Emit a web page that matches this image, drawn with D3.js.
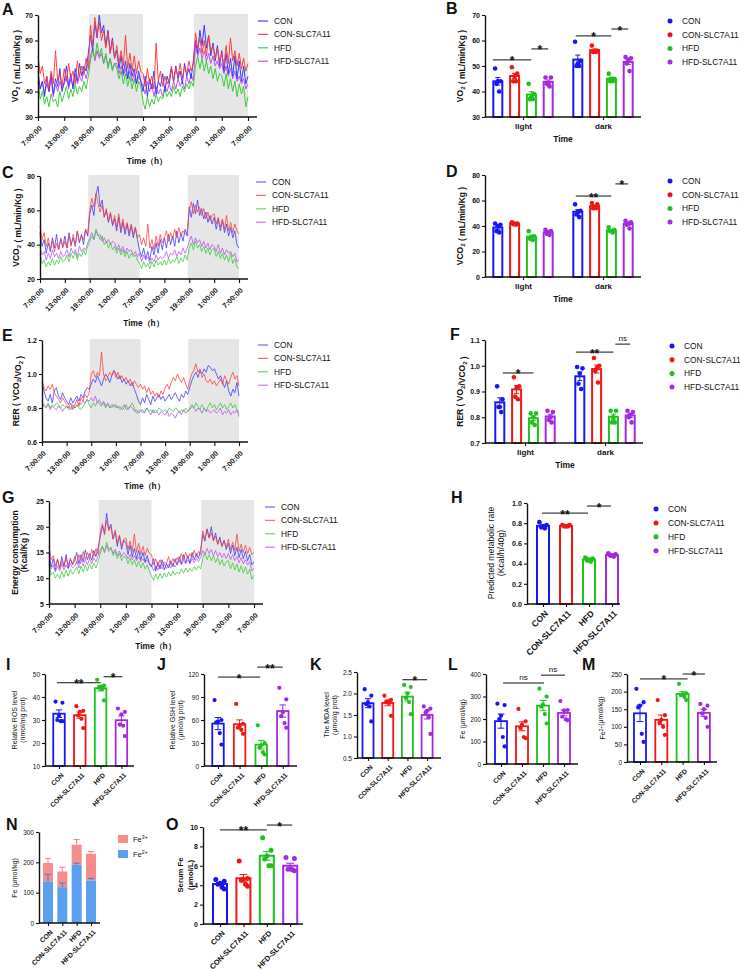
<!DOCTYPE html>
<html><head><meta charset="utf-8">
<script src="https://cdn.jsdelivr.net/npm/d3@7"></script>
<style>body{margin:0;background:#fff}svg{display:block}</style>
</head><body>
<svg id="c" width="740" height="971"></svg>
<script>
// ---------------- DATA ----------------
const groups = ["CON","CON-SLC7A11","HFD","HFD-SLC7A11"];
const periods = ["light","dark"];
const timeTickHours = [0,6,12,18,24,30,36,42,48];
const timeTickLabels = ["7:00:00","13:00:00","19:00:00","1:00:00","7:00:00","13:00:00","19:00:00","1:00:00","7:00:00"];
const darkPeriods = [[12,24],[36,48]];
const hours = d3.range(97).map(i => i * 0.5);

// A: VO2 time series
const vo2Con = [48,41,44,38,46,40,47,39,45,42,49,40, 44,50,42,47,41,49,44,51,46,50,48,55, 62,56,67,61,70,63,66,58,64,55,61,53, 56,49,54,47,52,45,51,46,49,43,48,44, 40,46,38,45,41,48,39,44,42,47,40,46, 43,49,44,50,45,48,43,51,46,49,45,52, 60,55,64,58,66,57,62,54,59,52,58,50, 56,48,55,47,53,46,54,45,52,44,50,43,46];
const vo2ConS = [54,47,50,43,46,41,48,43,56,44,47,42, 49,44,51,45,48,43,52,46,50,47,53,49, 66,58,69,62,67,60,64,57,63,55,60,53, 58,51,56,50,62,49,55,48,54,47,52,48, 47,42,49,43,46,41,59,44,48,42,46,43, 45,50,44,49,46,51,45,50,47,52,48,51, 63,57,61,55,60,54,62,56,58,53,57,52, 55,50,58,51,61,52,56,50,55,49,53,48,51];
const vo2Hfd = [44,37,40,35,38,34,39,36,37,34,40,36, 39,42,37,41,38,43,39,42,40,44,41,46, 52,56,53,59,54,57,51,55,49,53,48,51, 49,45,48,43,47,42,46,41,45,40,44,42, 36,33,38,34,37,35,39,36,38,37,41,38, 40,38,42,39,41,38,42,40,43,41,44,42, 50,54,49,53,48,52,47,50,45,49,44,47, 46,42,47,41,45,40,44,38,43,39,42,34,38];
const vo2HfdS = [46,41,44,39,43,40,45,38,43,40,44,41, 43,46,41,45,42,47,43,46,44,48,45,49, 54,57,52,56,53,55,51,54,50,53,49,51, 51,47,50,46,49,45,48,44,47,43,46,44, 42,39,44,40,43,38,42,39,41,38,42,40, 43,40,44,41,45,42,44,41,46,43,47,44, 58,54,57,53,56,52,55,51,54,50,52,49, 51,47,50,46,49,45,48,44,46,43,45,41,43];

// C: VCO2 time series
const vco2Con = [47,39,43,35,41,36,44,38,46,37,43,39, 45,38,47,40,44,39,48,41,46,40,49,45, 58,63,57,69,74,62,66,56,60,53,58,51, 55,48,56,47,53,46,52,45,51,44,50,43, 37,33,38,32,36,31,39,34,41,35,43,37, 44,38,46,40,45,39,48,41,47,42,49,45, 62,56,64,58,66,57,61,55,59,53,57,52, 56,49,55,48,54,47,52,45,50,44,48,40,38];
const vco2ConS = [51,43,47,39,44,37,42,36,41,37,44,38, 42,38,45,39,46,40,48,42,45,43,49,46, 60,67,62,70,64,59,63,56,61,54,59,52, 57,50,58,49,55,48,53,47,52,46,50,44, 46,40,44,39,52,38,43,37,45,39,46,41, 44,48,42,47,43,49,44,50,45,48,46,47, 60,65,58,63,59,62,57,61,55,59,54,57, 58,52,56,50,55,49,57,48,53,47,52,48,46];
const vco2Hfd = [35,29,31,27,30,28,32,28,31,29,33,30, 31,34,30,35,32,36,31,35,33,37,34,39, 42,45,43,49,46,43,45,40,42,38,41,37, 39,35,38,34,37,33,36,32,35,33,34,31, 29,26,30,27,29,26,30,27,31,28,30,28, 31,28,32,29,31,30,33,29,32,30,34,31, 38,41,37,42,38,40,36,39,35,38,34,37, 38,33,36,32,35,31,34,30,35,29,32,27,26];
const vco2HfdS = [39,34,36,31,35,32,37,33,35,32,36,33, 34,37,33,38,35,37,33,39,36,38,37,41, 44,47,43,48,45,46,42,44,41,43,40,42, 41,37,40,36,39,35,38,36,37,34,36,33, 35,30,34,31,33,29,32,30,34,31,33,32, 33,36,32,35,34,37,33,36,34,38,35,38, 42,45,40,44,41,43,39,42,38,41,37,40, 39,36,40,35,38,34,37,35,36,33,35,30,31];

// E: RER time series
const rerCon = [0.95,0.90,0.86,0.84,0.88,0.83,0.90,0.92,0.87,0.85,0.89,0.86, 0.84,0.82,0.86,0.83,0.85,0.87,0.84,0.88,0.86,0.90,0.92,0.91, 0.94,0.97,0.95,0.99,0.96,0.93,0.97,1.00,0.98,0.95,0.99,1.02, 1.00,0.97,0.99,0.95,0.97,0.94,0.96,0.93,0.95,0.91,0.88,0.84, 0.82,0.86,0.83,0.88,0.85,0.82,0.87,0.84,0.86,0.88,0.85,0.87, 0.84,0.86,0.88,0.85,0.87,0.89,0.86,0.84,0.88,0.86,0.90,0.88, 0.92,0.96,0.99,1.01,0.98,1.02,1.00,1.03,1.01,1.05,1.04,1.02, 1.03,1.00,0.97,0.99,0.95,0.92,0.96,0.90,0.87,0.91,0.89,0.95,0.87];
const rerConS = [0.96,0.92,0.90,0.93,0.91,0.94,0.89,0.87,0.85,0.83,0.86,0.84, 0.82,0.80,0.83,0.79,0.82,0.85,0.81,0.86,0.84,0.88,0.86,0.89, 1.00,1.02,0.98,1.01,0.99,1.13,1.00,0.96,0.98,1.01,0.99,1.02, 0.98,1.01,0.97,0.99,0.96,0.98,0.95,0.97,0.93,0.96,0.94,0.92, 0.94,0.91,0.93,0.89,0.92,0.88,0.90,0.87,0.89,0.86,0.90,0.88, 0.92,0.94,0.91,0.95,0.98,0.96,1.00,0.97,0.95,0.98,0.94,0.91, 0.96,1.00,1.02,1.06,1.01,1.03,0.98,1.00,0.96,0.95,0.97,0.94, 0.96,0.93,0.95,0.97,0.94,0.99,0.96,0.94,0.98,1.01,0.97,0.99,0.93];
const rerHfd = [0.83,0.82,0.81,0.83,0.80,0.82,0.81,0.83,0.82,0.80,0.82,0.81, 0.80,0.81,0.79,0.81,0.80,0.82,0.80,0.79,0.81,0.83,0.85,0.82, 0.80,0.83,0.81,0.84,0.82,0.81,0.83,0.80,0.82,0.81,0.80,0.82, 0.80,0.81,0.79,0.80,0.82,0.79,0.80,0.81,0.83,0.80,0.77,0.78, 0.79,0.77,0.78,0.80,0.78,0.79,0.77,0.79,0.78,0.80,0.79,0.78, 0.79,0.78,0.80,0.79,0.78,0.80,0.79,0.77,0.79,0.78,0.80,0.78, 0.80,0.82,0.80,0.83,0.81,0.79,0.82,0.80,0.78,0.81,0.83,0.80, 0.82,0.79,0.81,0.83,0.80,0.82,0.79,0.81,0.83,0.80,0.82,0.79,0.77];
const rerHfdS = [0.84,0.81,0.80,0.82,0.79,0.81,0.80,0.79,0.81,0.80,0.78,0.80, 0.81,0.79,0.80,0.82,0.80,0.81,0.83,0.82,0.84,0.83,0.85,0.84, 0.86,0.84,0.87,0.83,0.85,0.82,0.84,0.81,0.83,0.80,0.82,0.81, 0.82,0.80,0.81,0.79,0.80,0.82,0.79,0.81,0.80,0.78,0.79,0.77, 0.78,0.79,0.77,0.80,0.78,0.76,0.79,0.77,0.78,0.76,0.78,0.77, 0.76,0.78,0.75,0.77,0.76,0.74,0.77,0.78,0.76,0.79,0.77,0.78, 0.79,0.81,0.80,0.78,0.80,0.79,0.77,0.80,0.78,0.79,0.77,0.78, 0.79,0.77,0.78,0.80,0.76,0.78,0.77,0.79,0.76,0.78,0.77,0.79,0.75];

// G: energy consumption time series
const enCon = [15.0,12.2,13.8,11.6,13.6,11.9,14.2,12.3,14.6,12.0,13.9,12.6, 13.4,15.0,12.8,14.6,13.2,15.5,13.6,14.8,13.5,15.4,14.2,16.0, 18.0,20.2,18.8,22.6,19.5,20.5,17.6,19.0,16.2,18.2,15.6,17.4, 16.8,14.6,16.4,14.2,15.8,13.8,15.4,13.6,15.0,13.2,14.4,12.8, 12.2,13.8,11.4,13.2,11.8,13.6,11.6,12.9,12.0,13.4,12.2,13.8, 12.6,14.2,12.8,14.6,13.0,14.4,12.9,15.0,13.6,14.8,13.8,15.6, 18.5,17.2,19.6,17.8,20.0,17.4,18.8,16.6,18.0,16.2,17.4,15.6, 16.8,14.8,16.4,14.4,16.0,14.0,15.6,13.8,15.2,13.4,14.6,12.6,13.2];
const enConS = [16.2,13.6,14.4,12.4,13.8,12.0,13.4,12.2,14.0,12.6,13.6,12.8, 14.2,12.9,14.6,13.4,15.2,13.6,15.0,13.8,15.6,14.2,15.8,14.6, 19.0,20.6,18.4,21.2,19.2,20.0,17.6,19.4,16.8,18.4,16.2,17.6, 17.8,15.6,17.2,15.2,18.6,15.0,16.8,14.6,16.2,14.4,15.8,14.8, 14.6,12.6,13.8,12.2,13.6,12.4,13.2,12.8,14.2,12.6,13.8,13.0, 14.0,13.2,14.8,13.6,15.0,13.8,14.8,14.0,15.4,14.2,15.2,14.6, 19.2,17.6,19.4,17.8,18.8,17.2,18.2,16.6,17.6,16.2,17.2,16.0, 17.6,15.6,17.0,15.4,18.6,15.2,16.6,15.0,16.4,14.8,16.0,14.6,15.0];
const enHfd = [12.8,10.6,11.2,10.0,10.8,9.9,11.4,10.2,11.6,10.4,11.8,10.8, 11.4,12.2,10.9,12.4,11.2,12.6,11.4,12.8,11.8,12.9,12.0,13.2, 14.8,16.2,15.0,17.0,15.6,16.0,14.4,15.2,13.8,14.8,13.4,14.2, 14.2,12.8,13.9,12.6,13.6,12.2,13.3,12.0,13.0,11.8,12.6,11.4, 10.4,9.6,10.8,9.8,10.9,10.0,11.0,10.2,11.2,10.4,11.4,10.6, 11.2,10.8,11.8,11.0,12.0,11.2,11.9,11.4,12.2,11.6,12.4,11.8, 13.8,15.0,13.6,14.6,13.4,14.4,13.0,14.0,12.6,13.6,12.4,13.2, 13.4,11.8,13.0,11.6,12.8,11.2,12.4,11.0,12.2,10.8,11.8,9.8,10.6];
const enHfdS = [13.4,11.8,12.6,11.2,12.4,11.4,12.8,11.6,12.6,11.8,12.9,12.0, 12.4,13.2,12.0,13.4,12.4,13.6,12.6,13.8,12.8,14.0,13.2,14.4, 15.4,16.2,15.0,16.4,15.2,15.9,14.8,15.6,14.4,15.3,14.2,15.0, 14.6,13.8,14.6,13.6,14.4,13.4,14.2,13.2,13.8,13.0,13.6,12.8, 12.6,11.4,12.4,11.6,12.6,11.8,12.8,11.9,12.7,12.0,12.9,12.2, 12.8,13.4,12.6,13.5,12.8,13.6,12.9,13.8,13.0,13.9,13.2,14.0, 15.4,14.6,15.8,14.8,15.6,14.4,15.4,14.2,15.0,14.0,14.8,13.8, 14.8,13.6,14.6,13.4,14.2,13.0,14.0,12.8,13.6,12.6,13.2,11.4,12.0];

// B, D, F: per-animal light / dark values (order = groups)
const vo2Light = [[49,44,43,40,44],[49.5,47,46,44,44],[43,39,38,37,37],[45.5,45.5,43,43,42]];
const vo2Dark  = [[59.5,52,51,50,50],[58,56,56,55.5,55.5],[47,45,45,44,44],[53.5,53,52.5,51,48]];
const vco2Light = [[42,41,40,36,35],[43,42,42,41.5,41],[36,32,31,30,29],[37,36,35,34,33]];
const vco2Dark  = [[57,52,51,49,47],[58,57,55,54,54],[39,37,36,36,35],[44,43,42,41,38]];
const rerLight = [[0.92,0.87,0.84,0.84,0.82],[0.955,0.92,0.915,0.88,0.87],[0.815,0.815,0.80,0.78,0.77],[0.825,0.82,0.80,0.79,0.78]];
const rerDark  = [[0.995,0.99,0.97,0.93,0.91],[1.03,1.00,0.99,0.98,0.935],[0.825,0.825,0.80,0.78,0.78],[0.825,0.82,0.81,0.80,0.78]];
// H
const pmr = [[0.81,0.78,0.77,0.76,0.75],[0.78,0.78,0.77,0.77,0.77],[0.46,0.45,0.44,0.43,0.42],[0.50,0.49,0.48,0.48,0.47]];
// I - M, O
const ros = [[38,37.5,32,30,29.5,29.5],[36,34,33.5,32,30.5,26.5],[47.5,45,44.5,44,43.5,38.5],[35,33.5,32.5,28,27.5,23]];
const gsh = [[86,60,58,57,43,28],[81,55,52,50,47,42],[53,30,27,24,18,15],[102,87,70,65,56,50]];
const mda = [[2.1,1.95,1.8,1.75,1.7,1.35],[1.95,1.85,1.82,1.8,1.78,1.48],[2.2,2.15,2.0,1.9,1.8,1.52],[1.7,1.65,1.6,1.55,1.45,1.06]];
const feTot = [[268,262,215,200,120,78],[245,190,175,160,120,115],[335,300,265,255,222,180],[280,240,238,210,198,195]];
const fe2 = [[208,170,160,155,80,57],[176,133,120,112,100,77],[222,195,192,190,185,176],[165,160,150,138,125,100]];
const serumFe = [[4.6,4.4,4.2,4.1,3.8,3.6],[6.5,4.7,4.6,4.5,4.1,3.9],[8.9,7.6,7.0,6.7,6.0,6.0],[6.85,6.75,5.7,5.65,5.6,5.5]];
// N: stacked Fe2+/Fe3+
const nFe2 = [137,118,192,140];
const nFe3 = [61,52,66,88];
const nFe2Err = [23,14,5,7];
const nTotErr = [15,14,17,8];
const nSeries = ["Fe3+","Fe2+"];

// ---------------- STYLE ----------------
const FONT = '"Liberation Sans", Arial, Helvetica, sans-serif';
const colors = ["#1717f5","#f01616","#1fc11f","#a22ae0"];
const lineColors = ["#3434ff","#ff3a3a","#35cb35","#bb4cf0"];
const nColors = ["#f58d8d","#5a9ff0"];
const svg = d3.select("#c").attr("font-family", FONT);

function styleAxis(a, fs, bold){
  a.attr("font-family", FONT);
  a.select(".domain").attr("stroke","#111").attr("stroke-width",1.4);
  a.selectAll(".tick line").attr("stroke","#111").attr("stroke-width",1.1);
  a.selectAll(".tick text").attr("font-size",fs).attr("font-weight",bold?"bold":"normal").attr("fill","#111");
}
function rotateTicks(a, dx, dy){
  a.selectAll(".tick text").attr("x",0).attr("y",0).attr("dy","0.35em")
    .attr("text-anchor","end").attr("transform",`translate(${dx},${dy}) rotate(-45)`);
}
function panelLabel(t,x,y){
  svg.append("text").attr("x",x).attr("y",y).attr("font-size",16).attr("font-weight","bold").attr("fill","#111").text(t);
}
function rich(sel, parts, fs){
  parts.forEach(([t,k])=>{
    const sp = sel.append("tspan").text(t);
    if(k==="sub"){ sp.attr("font-size",fs*0.7).attr("dy",fs*0.25); sel.append("tspan").attr("dy",-fs*0.25).text(""); }
    if(k==="sup"){ sp.attr("font-size",fs*0.7).attr("dy",-fs*0.35); sel.append("tspan").attr("dy",fs*0.35).text(""); }
  });
}
function yTitle(x,y,parts,fs,bold){
  const t = svg.append("text").attr("transform",`translate(${x},${y}) rotate(-90)`).attr("text-anchor","middle")
    .attr("dy","0.35em").attr("font-size",fs).attr("font-weight",bold?"bold":"normal").attr("fill","#111");
  rich(t, parts, fs);
}
function hText(x,y,str,fs,bold,anchor){
  svg.append("text").attr("x",x).attr("y",y).attr("text-anchor",anchor||"middle").attr("font-size",fs)
    .attr("font-weight",bold?"bold":"normal").attr("fill","#111").text(str);
}
function sig(x1,x2,yp,label){
  svg.append("line").attr("x1",x1).attr("x2",x2).attr("y1",yp).attr("y2",yp).attr("stroke","#111").attr("stroke-width",1);
  if(label==="ns") hText((x1+x2)/2, yp-3.5, label, 8, false);
  else hText((x1+x2)/2, yp+5.5, label, 12, true);
}

// ---------------- LINE CHARTS ----------------
function lineChart(o){
  const g = svg.append("g");
  const x = d3.scaleLinear().domain([0,48]).range([o.x0,o.x1]);
  const y = d3.scaleLinear().domain(o.yDomain).range([o.yBot,o.yTop]);
  g.selectAll("rect").data(darkPeriods).join("rect")
    .attr("x",d=>x(d[0])-1.5).attr("width",d=>x(d[1])-x(d[0])+1.5)
    .attr("y",o.yTop-1).attr("height",o.yBot-o.yTop+1).attr("fill","#e6e6e6");
  const line = d3.line().x((d,i)=>x(hours[i])).y(d=>y(d));
  [3,2,0,1].forEach(k=>{
    g.append("path").attr("d",line(o.series[k])).attr("fill","none")
      .attr("stroke",lineColors[k]).attr("stroke-width",1).attr("stroke-opacity",o.op).attr("stroke-linejoin","round");
  });
  const ya = g.append("g").attr("transform",`translate(${o.x0},0)`)
    .call(d3.axisLeft(y).tickValues(o.yTicks).tickFormat(o.yFmt).tickSize(3).tickSizeOuter(0).tickPadding(2));
  styleAxis(ya, 7, true);
  const xa = g.append("g").attr("transform",`translate(0,${o.yBot})`)
    .call(d3.axisBottom(x).tickValues(timeTickHours).tickFormat((d,i)=>timeTickLabels[i]).tickSize(4).tickSizeOuter(0));
  styleAxis(xa, 7.4, true);
  xa.select(".domain").attr("d",`M${o.x0},0H${o.x1+9}`);
  rotateTicks(xa, 2, 10);
  groups.forEach((gn,i)=>{
    const ly = o.legY + i*13.4;
    svg.append("line").attr("x1",o.legX).attr("x2",o.legX+10).attr("y1",ly).attr("y2",ly)
      .attr("stroke",lineColors[i]).attr("stroke-width",1.2).attr("stroke-opacity",o.op);
    hText(o.legX+16, ly+3, gn, 8.4, false, "start");
  });
  yTitle(o.ytX, (o.yTop+o.yBot)/2, o.yTitle, 8.5, true);
  if(o.yTitle2) yTitle(o.ytX+9, (o.yTop+o.yBot)/2, o.yTitle2, 8.5, true);
  hText((o.x0+o.x1)/2+4, o.xtY, "Time（h）", 8.3, true);
}

lineChart({x0:38,x1:248,yTop:15,yBot:117,yDomain:[30,70],yTicks:[30,40,50,60,70],yFmt:d3.format("d"),
  series:[vo2Con,vo2ConS,vo2Hfd,vo2HfdS],op:0.95,legX:258,legY:21,ytX:15,xtY:164,
  yTitle:[["VO",null],["2","sub"],[" ( mL/min/Kg )",null]]});
lineChart({x0:40,x1:239,yTop:176,yBot:279,yDomain:[20,80],yTicks:[20,40,60,80],yFmt:d3.format("d"),
  series:[vco2Con,vco2ConS,vco2Hfd,vco2HfdS],op:0.75,legX:256,legY:182,ytX:16,xtY:326,
  yTitle:[["VCO",null],["2","sub"],[" ( mL/min/Kg )",null]]});
lineChart({x0:42,x1:239,yTop:340,yBot:442,yDomain:[0.6,1.2],yTicks:[0.6,0.8,1.0,1.2],yFmt:d3.format(".1f"),
  series:[rerCon,rerConS,rerHfd,rerHfdS],op:0.75,legX:258,legY:345,ytX:16,xtY:489,
  yTitle:[["RER ( VCO",null],["2","sub"],["/VO",null],["2","sub"],[" )",null]]});
lineChart({x0:49,x1:254,yTop:501,yBot:604,yDomain:[5,25],yTicks:[5,10,15,20,25],yFmt:d3.format("d"),
  series:[enCon,enConS,enHfd,enHfdS],op:0.75,legX:265,legY:507,ytX:15,xtY:649,
  yTitle:[["Energy consumption",null]],yTitle2:[["(Kcal/Kg )",null]]});

panelLabel("A",2,15); panelLabel("C",2,178); panelLabel("E",2,341); panelLabel("G",2,503);

// ---------------- BAR HELPERS ----------------
const jit = [-0.3,0.3,0,-0.15,0.15,0.3,-0.3];
function drawBar(g, cx, vals, y, base, w, col, r, sw){
  const m = d3.mean(vals), sem = d3.deviation(vals)/Math.sqrt(vals.length);
  g.append("rect").attr("x",cx-w/2).attr("y",y(m)).attr("width",w).attr("height",y(base)-y(m))
    .attr("fill","#fff").attr("stroke",col).attr("stroke-width",sw);
  const cw = Math.max(2.5, w*0.28);
  g.append("path").attr("d",`M${cx},${y(m-sem)}V${y(m+sem)}M${cx-cw},${y(m+sem)}H${cx+cw}M${cx-cw},${y(m-sem)}H${cx+cw}`)
    .attr("stroke",col).attr("stroke-width",1).attr("fill","none");
  const order = d3.range(vals.length).sort((a,b)=>d3.descending(vals[a],vals[b]));
  order.forEach((idx,j)=> g.append("circle").attr("cx",cx+jit[j%7]*w).attr("cy",y(vals[idx])).attr("r",r).attr("fill",col));
}
function dotLegend(x,y0,step){
  groups.forEach((gn,i)=>{
    svg.append("circle").attr("cx",x).attr("cy",y0+i*step).attr("r",2.5).attr("fill",colors[i]);
    hText(x+12, y0+i*step+3, gn, 8.4, false, "start");
  });
}

function groupBars(o){
  const g = svg.append("g");
  const y = d3.scaleLinear().domain(o.yDomain).range([o.yBot,o.yTop]);
  const xp = d3.scalePoint().domain(periods).range(o.centers);
  const xi = d3.scalePoint().domain(groups).range([-25.2,25.2]);
  periods.forEach((p,pi)=> groups.forEach((gn,gi)=>{
    drawBar(g, xp(p)+xi(gn), o.data[pi][gi], y, o.yDomain[0], 9, colors[gi], 2.3, 2);
  }));
  const ya = g.append("g").attr("transform",`translate(${o.ax},0)`)
    .call(d3.axisLeft(y).tickValues(o.yTicks).tickFormat(o.yFmt).tickSize(3).tickSizeOuter(0).tickPadding(2));
  styleAxis(ya, 7, true);
  const xa = g.append("g").attr("transform",`translate(0,${o.yBot})`)
    .call(d3.axisBottom(xp).tickSize(3).tickSizeOuter(0).tickPadding(3));
  styleAxis(xa, 8, true);
  xa.select(".domain").attr("d",`M${o.ax},0H${o.axEnd}`);
  yTitle(460, (o.yTop+o.yBot)/2, o.yTitle, 8.5, true);
  hText((o.centers[0]+o.centers[1])/2, o.yBot+25, "Time", 8.5, true);
  dotLegend(o.legX, o.legY, 13.7);
  o.sigs.forEach(s=> sig(xp(s[0])+xi(groups[s[1]])+s[4], xp(s[0])+xi(groups[s[2]]), y(s[3]), s[5]));
}
groupBars({ax:485,axEnd:641,yTop:15,yBot:117,yDomain:[30,70],yTicks:[30,40,50,60,70],yFmt:d3.format("d"),
  centers:[523,603],data:[vo2Light,vo2Dark],legX:670,legY:21,
  yTitle:[["VO",null],["2","sub"],[" ( mL/min/Kg )",null]],
  sigs:[["light",0,2,52.4,-5,"*"],["light",2,3,56.7,0,"*"],["dark",0,2,61.8,-2,"*"],["dark",2,3,64.5,0,"*"]]});
groupBars({ax:485,axEnd:641,yTop:175,yBot:277,yDomain:[0,80],yTicks:[0,20,40,60,80],yFmt:d3.format("d"),
  centers:[523,603],data:[vco2Light,vco2Dark],legX:670,legY:181,
  yTitle:[["VCO",null],["2","sub"],[" ( mL/min/Kg )",null]],
  sigs:[["dark",0,2,63.5,-2,"**"],["dark",2,3,73,4,"*"]]});
groupBars({ax:485,axEnd:643,yTop:340,yBot:443,yDomain:[0.7,1.1],yTicks:[0.7,0.8,0.9,1.0,1.1],yFmt:d3.format(".1f"),
  centers:[525,605],data:[rerLight,rerDark],legX:672,legY:346,
  yTitle:[["RER ( VO",null],["2","sub"],["/VCO",null],["2","sub"],[" )",null]],
  sigs:[["light",0,2,0.972,3,"*"],["dark",0,2,1.053,-4,"**"],["dark",2,3,1.084,2,"ns"]]});
panelLabel("B",446,14); panelLabel("D",446,177); panelLabel("F",450,340); panelLabel("H",451,503);

function singleBars(o){
  const g = svg.append("g");
  const y = d3.scaleLinear().domain(o.yDomain).range([o.yBot,o.yTop]);
  const x = d3.scalePoint().domain(groups).range([o.c0, o.c0+3*o.step]);
  groups.forEach((gn,gi)=> drawBar(g, x(gn), o.data[gi], y, o.yDomain[0], o.w, colors[gi], o.r, o.sw));
  const ya = g.append("g").attr("transform",`translate(${o.ax},0)`)
    .call(d3.axisLeft(y).tickValues(o.yTicks).tickFormat(o.yFmt).tickSize(3).tickSizeOuter(0).tickPadding(2));
  styleAxis(ya, o.tfs, o.tb);
  const xa = g.append("g").attr("transform",`translate(0,${o.yBot})`)
    .call(d3.axisBottom(x).tickSize(3).tickSizeOuter(0));
  styleAxis(xa, o.xfs, true);
  xa.select(".domain").attr("d",`M${o.ax},0H${o.axEnd}`);
  rotateTicks(xa, 3, 8);
  o.sigs.forEach(s=> sig(x(groups[s[0]])+s[3], x(groups[s[1]])+s[4], y(s[2]), s[5]));
}

singleBars({ax:527,axEnd:620,yTop:503,yBot:604,yDomain:[0,1],yTicks:[0,0.2,0.4,0.6,0.8,1.0],yFmt:d3.format(".1f"),
  c0:543,step:23,w:12,r:2.4,sw:2,tfs:7.2,tb:true,xfs:8.6,data:pmr,
  sigs:[[0,2,0.90,-1,-1,"**"],[2,3,0.97,-2,-1,"*"]]});
yTitle(491,553,[["Predicted metabolic rate",null]],8.6,false);
yTitle(501,553,[["(Kcal/h/40g)",null]],8.6,false);
dotLegend(656,509,13.9);

singleBars({ax:45,axEnd:134,yTop:674,yBot:766,yDomain:[10,50],yTicks:[10,20,30,40,50],yFmt:d3.format("d"),
  c0:59,step:20.8,w:11.5,r:2.1,sw:1.8,tfs:6.5,tb:false,xfs:6.6,data:ros,
  sigs:[[0,2,46.2,-2,0,"**"],[2,3,48.8,3,1,"*"]]});
yTitle(15,720,[["Relative ROS level",null]],7,false);
yTitle(23,720,[["(nmol/mg prot)",null]],7,false);

singleBars({ax:204,axEnd:297,yTop:674,yBot:766,yDomain:[0,120],yTicks:[0,30,60,90,120],yFmt:d3.format("d"),
  c0:218,step:21.6,w:11.5,r:2.1,sw:1.8,tfs:6.5,tb:false,xfs:6.6,data:gsh,
  sigs:[[0,2,116,0,-1,"*"],[2,3,129,-4,0,"**"]]});
yTitle(173,720,[["Relative GSH level",null]],7,false);
yTitle(181,720,[["(μmol/g prot)",null]],7,false);

singleBars({ax:357,axEnd:441,yTop:672,yBot:758,yDomain:[0.5,2.5],yTicks:[0.5,1.0,1.5,2.0,2.5],yFmt:d3.format(".1f"),
  c0:368,step:19.7,w:11,r:2.1,sw:1.8,tfs:6.5,tb:false,xfs:6.6,data:mda,
  sigs:[[2,3,2.32,-5,0,"*"]]});
yTitle(327,715,[["The MDA level",null]],7,false);
yTitle(335,715,[["(μmol/g prot)",null]],7,false);

singleBars({ax:486,axEnd:578,yTop:674,yBot:764,yDomain:[0,400],yTicks:[0,100,200,300,400],yFmt:d3.format("d"),
  c0:501,step:21,w:12,r:2.1,sw:1.8,tfs:6.5,tb:false,xfs:6.6,data:feTot,
  sigs:[[0,2,360,2,1,"ns"],[2,3,395,-2,1,"ns"]]});
yTitle(463,719,[["Fe (μmol/kg)",null]],7,false);

singleBars({ax:627,axEnd:717,yTop:674,yBot:762,yDomain:[0,250],yTicks:[0,50,100,150,200,250],yFmt:d3.format("d"),
  c0:640,step:21.3,w:12,r:2.1,sw:1.8,tfs:6.5,tb:false,xfs:6.6,data:fe2,
  sigs:[[0,2,236,0,5,"*"],[2,3,250,0,1,"*"]]});
yTitle(603,718,[["Fe",null],["2+","sup"],["(μmol/kg)",null]],7,false);

panelLabel("I",6,670); panelLabel("J",157,670); panelLabel("K",310,670); panelLabel("L",448,670); panelLabel("M",582,670);

// N: stacked
(function(){
  const g = svg.append("g");
  const y = d3.scaleLinear().domain([0,300]).range([923,832]);
  const x = d3.scalePoint().domain(groups).range([48,91]);
  const w = 10;
  groups.forEach((gn,i)=>{
    const cx = x(gn), tot = nFe2[i]+nFe3[i];
    g.append("rect").attr("x",cx-w/2).attr("y",y(tot)).attr("width",w).attr("height",y(nFe2[i])-y(tot)).attr("fill",nColors[0]);
    g.append("rect").attr("x",cx-w/2).attr("y",y(nFe2[i])).attr("width",w).attr("height",y(0)-y(nFe2[i])).attr("fill",nColors[1]);
    g.append("path").attr("d",`M${cx},${y(tot)}V${y(tot+nTotErr[i])}M${cx-3},${y(tot+nTotErr[i])}H${cx+3}`).attr("stroke","#f27c7c").attr("stroke-width",1).attr("fill","none");
    g.append("path").attr("d",`M${cx},${y(nFe2[i])}V${y(nFe2[i]+nFe2Err[i])}M${cx-3},${y(nFe2[i]+nFe2Err[i])}H${cx+3}`).attr("stroke","#3f82dc").attr("stroke-width",1).attr("fill","none");
  });
  const ya = g.append("g").attr("transform","translate(39,0)")
    .call(d3.axisLeft(y).tickValues([0,100,200,300]).tickSize(3).tickSizeOuter(0).tickPadding(2));
  styleAxis(ya, 6.5, false);
  const xa = g.append("g").attr("transform","translate(0,923)").call(d3.axisBottom(x).tickSize(3).tickSizeOuter(0));
  styleAxis(xa, 6.8, true);
  xa.select(".domain").attr("d","M39,0H100");
  rotateTicks(xa, 3, 8);
  nSeries.forEach((s,i)=>{
    svg.append("rect").attr("x",118).attr("y",835+i*15).attr("width",10).attr("height",8).attr("fill",nColors[i]);
    const t = svg.append("text").attr("x",133).attr("y",842+i*15).attr("font-size",7.5).attr("fill","#111");
    rich(t, [["Fe",null],[s.slice(2),"sup"]], 7.5);
  });
  yTitle(15,878,[["Fe (μmol/kg)",null]],7,false);
})();

// O
singleBars({ax:203,axEnd:303,yTop:827,yBot:924,yDomain:[0,10],yTicks:[0,2,4,6,8,10],yFmt:d3.format("d"),
  c0:220,step:23.4,w:14,r:2.5,sw:2,tfs:7,tb:true,xfs:7.4,data:serumFe,
  sigs:[[0,2,9.7,0,0,"**"],[2,3,10.2,0,2,"*"]]});
yTitle(180,875,[["Serum Fe",null]],7.7,true);
yTitle(190,875,[["(μmol/L)",null]],7.7,true);
panelLabel("N",6,830); panelLabel("O",166,830);
</script>
</body></html>
